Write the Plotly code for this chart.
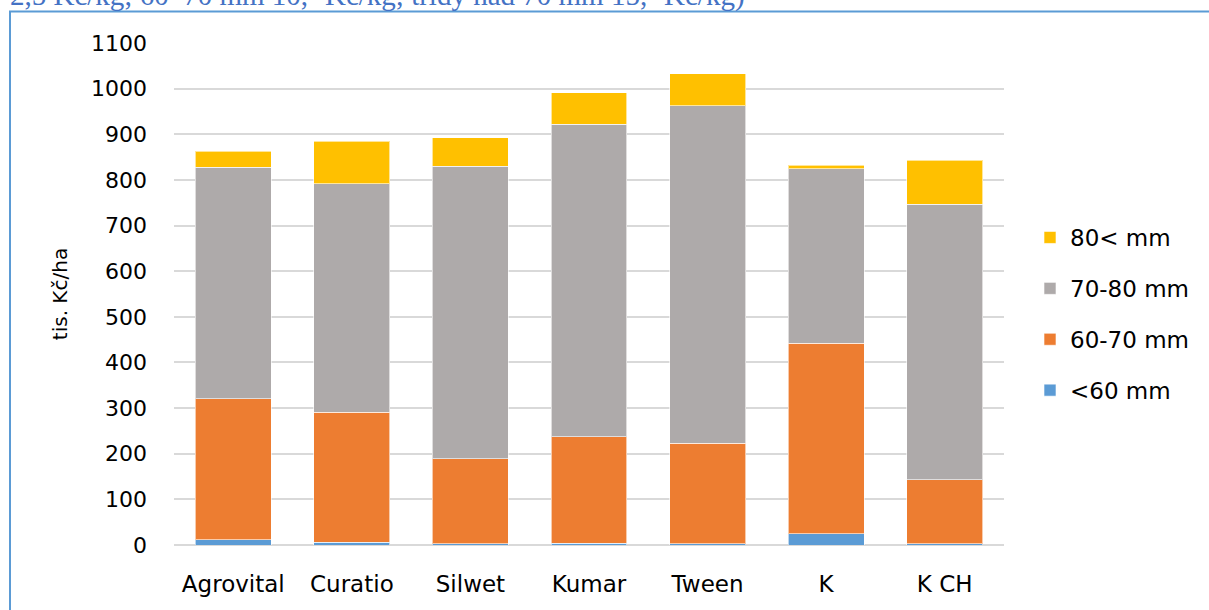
import plotly.graph_objects as go

# hodnoty (tis. Kč/ha)
varianty = ["Agrovital", "Curatio", "Silwet", "Kumar", "Tween", "K", "K CH"]
pod_60 = [12, 6, 3, 4, 3, 25, 3]
od_60_do_70 = [308, 285, 186, 233, 220, 417, 140]
od_70_do_80 = [508, 501, 641, 685, 740, 382, 604]
nad_80 = [35, 93, 62, 69, 70, 8, 96]

serie = [
    ("<60 mm", pod_60, "#5B9BD5"),
    ("60-70 mm", od_60_do_70, "#ED7D31"),
    ("70-80 mm", od_70_do_80, "#AEAAAA"),
    ("80< mm", nad_80, "#FFC000"),
]

W, H = 1209, 610
L, R, T, B = 174, 205, 43, 65


def px_x(p):
    return (p - L) / (W - L - R)


def px_y(p):
    return (H - B - p) / (H - T - B)


fig = go.Figure()
for i, (nazev, hodnoty, barva) in enumerate(serie):
    fig.add_trace(go.Bar(
        x=varianty,
        y=hodnoty,
        name=nazev,
        legendgroup=nazev,
        legendrank=1000 - i,
        marker_color=barva,
        marker_line=dict(color="rgba(255,255,255,0.6)", width=1),
    ))

fig.update_layout(
    barmode="stack",
    bargap=0.36,
    width=W,
    height=H,
    margin=dict(l=L, r=R, t=T, b=B),
    plot_bgcolor="white",
    paper_bgcolor="white",
    font=dict(family="DejaVu Sans", size=22, color="black"),
    legend=dict(
        traceorder="grouped",
        tracegroupgap=18,
        x=px_x(1030), xanchor="left",
        y=px_y(314), yanchor="middle",
        font=dict(size=23),
    ),
    annotations=[dict(
        text="2,5 Kč/kg; 60–70 mm 10,- Kč/kg; třídy nad 70 mm 15,- Kč/kg)",
        xref="paper", yref="paper",
        x=px_x(8), y=px_y(-5),
        xanchor="left", yanchor="middle",
        showarrow=False,
        font=dict(family="Liberation Serif", size=29, color="#4472C4"),
    )],
    shapes=[dict(
        type="rect", xref="paper", yref="paper",
        x0=px_x(10), x1=px_x(1230),
        y0=px_y(640), y1=px_y(11.5),
        line=dict(color="#5B9BD5", width=2),
        layer="below",
    )],
)

fig.update_yaxes(
    range=[0, 1100],
    dtick=100,
    showgrid=True,
    gridcolor="#D9D9D9",
    gridwidth=1.5,
    zeroline=True,
    zerolinecolor="#D9D9D9",
    zerolinewidth=1.5,
    ticklabelstandoff=26,
    title=dict(text="tis. Kč/ha", font=dict(size=20), standoff=18),
)
fig.update_xaxes(
    showline=False,
    tickfont=dict(size=23),
    ticklabelstandoff=23,
)

# okraj stránky pryč, aby graf začínal v rohu okna
fig.write_html(
    "out.html",
    config={"displayModeBar": False},
    post_script="document.body.style.margin='0';",
)
